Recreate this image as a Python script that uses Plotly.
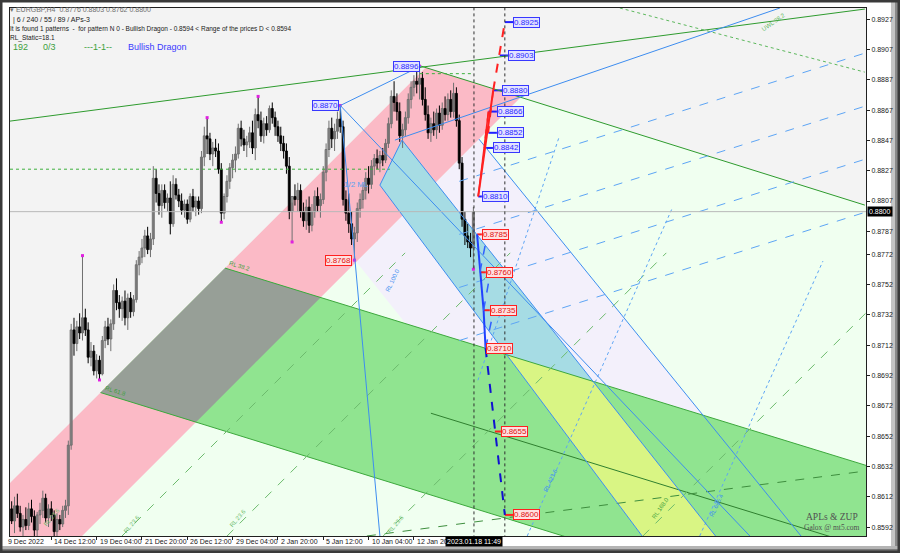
import plotly.graph_objects as go

# ---------------- data ----------------
BARS = list(range(1, 166))
OPEN = [0.8598,0.8604,0.8596,0.8606,0.8601,0.8592,0.8597,0.8593,0.8604,0.8599,0.8590,0.8600,0.8603,0.8611,0.8598,0.8604,0.8600,0.8589,0.8597,0.8594,
        0.8603,0.8606,0.8646,0.8722,0.8713,0.8724,0.8720,0.8730,0.8722,0.8704,0.8708,0.8695,0.8702,0.8693,0.8715,0.8724,0.8716,0.8726,0.8748,0.8740,
        0.8736,0.8741,0.8730,0.8743,0.8734,0.8742,0.8765,0.8770,0.8776,0.8784,0.8775,0.8782,0.8822,0.8812,0.8804,0.8814,0.8806,0.8809,0.8792,0.8818,
        0.8811,0.8807,0.8801,0.8805,0.8795,0.8810,0.8803,0.8807,0.8802,0.8836,0.8850,0.8848,0.8838,0.8842,0.8840,0.8828,0.8799,0.8810,0.8820,0.8829,
        0.8834,0.8838,0.8855,0.8848,0.8844,0.8846,0.8852,0.8842,0.8864,0.8860,0.8850,0.8858,0.8854,0.8868,0.8862,0.8856,0.8850,0.8845,0.8840,0.8830,
        0.8800,0.8810,0.8808,0.8814,0.8800,0.8794,0.8803,0.8791,0.8800,0.8810,0.8804,0.8808,0.8826,0.8841,0.8855,0.8848,0.8853,0.8861,0.8856,0.8808,
        0.8799,0.8792,0.8782,0.8786,0.8802,0.8808,0.8814,0.8822,0.8818,0.8830,0.8835,0.8832,0.8837,0.8834,0.8845,0.8858,0.8876,0.8872,0.8866,0.8850,
        0.8854,0.8862,0.8874,0.8882,0.8886,0.8884,0.8888,0.8874,0.8864,0.8852,0.8858,0.8854,0.8865,0.8857,0.8868,0.8864,0.8874,0.8866,0.8878,0.8860,
        0.8832,0.8795,0.8784,0.8780,0.8776]
HIGH = [0.8607,0.8609,0.8612,0.8614,0.8606,0.8600,0.8605,0.8608,0.8610,0.8603,0.8602,0.8608,0.8616,0.8614,0.8607,0.8609,0.8603,0.8601,0.8600,0.8606,
        0.8610,0.8649,0.8726,0.8730,0.8728,0.8733,0.8771,0.8736,0.8727,0.8714,0.8712,0.8706,0.8705,0.8718,0.8728,0.8730,0.8729,0.8752,0.8756,0.8745,
        0.8744,0.8748,0.8746,0.8747,0.8745,0.8768,0.8774,0.8782,0.8788,0.8790,0.8786,0.8830,0.8828,0.8818,0.8818,0.8818,0.8812,0.8820,0.8824,0.8822,
        0.8815,0.8812,0.8808,0.8808,0.8812,0.8815,0.8810,0.8810,0.8840,0.8856,0.8862,0.8852,0.8846,0.8848,0.8845,0.8832,0.8812,0.8824,0.8832,0.8838,
        0.8843,0.8858,0.8860,0.8854,0.8850,0.8856,0.8860,0.8868,0.8876,0.8866,0.8862,0.8863,0.8870,0.8872,0.8866,0.8860,0.8856,0.8850,0.8845,0.8836,
        0.8806,0.8818,0.8819,0.8818,0.8806,0.8808,0.8810,0.8805,0.8814,0.8816,0.8812,0.8830,0.8845,0.8860,0.8862,0.8858,0.8866,0.8870,0.8860,0.8814,
        0.8812,0.8800,0.8790,0.8806,0.8812,0.8818,0.8826,0.8830,0.8834,0.8838,0.8841,0.8840,0.8842,0.8848,0.8862,0.8880,0.8886,0.8878,0.8872,0.8858,
        0.8866,0.8878,0.8886,0.8890,0.8893,0.8896,0.8892,0.8882,0.8870,0.8862,0.8866,0.8868,0.8870,0.8872,0.8876,0.8878,0.8880,0.8885,0.8882,0.8864,
        0.8836,0.8800,0.8792,0.8786,0.8803]
LOW = [0.8590,0.8594,0.8588,0.8598,0.8589,0.8585,0.8590,0.8590,0.8595,0.8586,0.8586,0.8594,0.8598,0.8595,0.8592,0.8596,0.8585,0.8586,0.8590,0.8592,
       0.8598,0.8600,0.8643,0.8705,0.8708,0.8716,0.8715,0.8718,0.8700,0.8698,0.8692,0.8690,0.8689,0.8692,0.8710,0.8712,0.8708,0.8722,0.8735,0.8730,
       0.8728,0.8725,0.8722,0.8730,0.8731,0.8740,0.8758,0.8766,0.8770,0.8772,0.8770,0.8778,0.8806,0.8798,0.8796,0.8802,0.8800,0.8785,0.8790,0.8808,
       0.8803,0.8798,0.8796,0.8792,0.8793,0.8800,0.8797,0.8798,0.8799,0.8830,0.8838,0.8834,0.8830,0.8836,0.8825,0.8793,0.8795,0.8806,0.8815,0.8822,
       0.8826,0.8835,0.8843,0.8840,0.8836,0.8842,0.8838,0.8834,0.8855,0.8846,0.8845,0.8850,0.8852,0.8858,0.8850,0.8846,0.8840,0.8835,0.8825,0.8795,
       0.8780,0.8804,0.8800,0.8796,0.8790,0.8788,0.8786,0.8787,0.8796,0.8800,0.8796,0.8805,0.8820,0.8836,0.8842,0.8840,0.8848,0.8852,0.8804,0.8794,
       0.8786,0.8778,0.8768,0.8780,0.8796,0.8802,0.8808,0.8812,0.8815,0.8824,0.8828,0.8826,0.8830,0.8832,0.8842,0.8855,0.8866,0.8860,0.8846,0.8842,
       0.8850,0.8858,0.8868,0.8876,0.8878,0.8874,0.8870,0.8860,0.8848,0.8846,0.8850,0.8848,0.8852,0.8854,0.8860,0.8860,0.8862,0.8862,0.8856,0.8828,
       0.8790,0.8778,0.8776,0.8770,0.8762]
CLOSE = [0.8604,0.8596,0.8606,0.8601,0.8592,0.8597,0.8593,0.8604,0.8599,0.8590,0.8600,0.8603,0.8611,0.8598,0.8604,0.8600,0.8589,0.8597,0.8594,0.8603,
         0.8606,0.8646,0.8722,0.8713,0.8724,0.8720,0.8730,0.8722,0.8704,0.8708,0.8695,0.8702,0.8693,0.8715,0.8724,0.8716,0.8726,0.8748,0.8740,0.8736,
         0.8741,0.8730,0.8743,0.8734,0.8742,0.8765,0.8770,0.8776,0.8784,0.8775,0.8782,0.8822,0.8812,0.8804,0.8814,0.8806,0.8809,0.8792,0.8818,0.8811,
         0.8807,0.8801,0.8805,0.8795,0.8810,0.8803,0.8807,0.8802,0.8836,0.8850,0.8848,0.8838,0.8842,0.8840,0.8828,0.8799,0.8810,0.8820,0.8829,0.8834,
         0.8838,0.8855,0.8848,0.8844,0.8846,0.8852,0.8842,0.8864,0.8860,0.8850,0.8858,0.8854,0.8868,0.8862,0.8856,0.8850,0.8845,0.8840,0.8830,0.8800,
         0.8810,0.8808,0.8814,0.8800,0.8794,0.8803,0.8791,0.8800,0.8810,0.8804,0.8808,0.8826,0.8841,0.8855,0.8848,0.8853,0.8861,0.8856,0.8808,0.8799,
         0.8792,0.8782,0.8786,0.8802,0.8808,0.8814,0.8822,0.8818,0.8830,0.8835,0.8832,0.8837,0.8834,0.8845,0.8858,0.8876,0.8872,0.8866,0.8850,0.8854,
         0.8862,0.8874,0.8882,0.8886,0.8884,0.8888,0.8874,0.8864,0.8852,0.8858,0.8854,0.8865,0.8857,0.8868,0.8864,0.8874,0.8866,0.8878,0.8860,0.8832,
         0.8795,0.8784,0.8780,0.8776,0.8800]

# zigzag swing points (bar, 'H'/'L')
ZZ_BARS = [27, 33, 71, 76, 89, 101, 118, 123, 146, 165]
ZZ_KIND = ['H', 'L', 'H', 'L', 'H', 'L', 'H', 'L', 'H', 'L']

Y_TICKS = [0.8927,0.8907,0.8887,0.8867,0.8847,0.8827,0.8807,0.8787,0.8772,0.8752,
           0.8732,0.8712,0.8692,0.8672,0.8652,0.8632,0.8612,0.8592]
X_TICK_BARS = [16, 32, 48, 64, 80, 96, 112, 128, 144]
X_TICK_TEXT = ["14 Dec 12:00", "19 Dec 04:00", "21 Dec 20:00", "26 Dec 12:00",
               "29 Dec 04:00", "2 Jan 20:00", "5 Jan 12:00", "10 Jan 04:00", "12 Jan 20:00"]
FIRST_LABEL = "9 Dec 2022"
CUR_PRICE = 0.8800
CUR_BAR = 165.2
CUR_TIME = "2023.01.18 11:49"

# pattern anchor points (bar, price)
PT_A = (146.5, 0.8896)
PT_B = (118.0, 0.8870)
PT_C = (123.2, 0.8768)

# channel / pitchfork lines (two points each, bar & price)
PINK_UP = [(1.41, 0.8621), (147.6, 0.8894)]
PINK_LO = [(26.8, 0.8586), (181.3, 0.88746)]
PEAK_LN = [(146.5, 0.8896), (303.2, 0.88043)]
TOP_LN = [(1.41, 0.88597), (303.2, 0.89336)]
G_UP = [(77.3, 0.87628), (303.2, 0.86329)]
G_LO = [(33.9, 0.86804), (303.2, 0.85244)]
CY_L = [(132.0, 0.88175), (223.8, 0.85880)]
CY_R = [(176.8, 0.87595), (249.6, 0.85880)]
CY_TOP = (139.8, 0.88472)
LAV_L = [(123.2, 0.8768), (201.1, 0.85861)]
LAV_R = [(201.6, 0.87681), (246.0, 0.86659)]
STEEP = [[(184.0, 0.85861), (235.1, 0.88019)],
         [(244.9, 0.85861), (288.4, 0.87674)],
         [(166.6, 0.86888), (195.2, 0.88489)]]
GD_START = [40.9, 78.0, 133.1, 224.8]

# projection levels: pivot bar and label bar
UP_LEVELS = [0.8925, 0.8903, 0.8880, 0.8866, 0.8852, 0.8842, 0.8810]
UP_BARS = [176.1, 174.3, 172.0, 170.3, 170.3, 168.8, 166.7]
UP_LBL = [179.0, 177.2, 175.1, 173.3, 173.3, 171.9, 168.0]
DN_LEVELS = [0.8785, 0.8760, 0.8735, 0.8710, 0.8655, 0.8600]
DN_BARS = [166.3, 167.3, 168.6, 169.3, 172.6, 176.1]
DN_LBL = [168.0, 169.4, 170.8, 169.4, 174.7, 179.0]

# ---------------- helpers ----------------
def at(line, x):
    (x1, y1), (x2, y2) = line
    return y1 + (y2 - y1) * (x - x1) / (x2 - x1)

def at_y(line, y):
    (x1, y1), (x2, y2) = line
    return x1 + (x2 - x1) * (y - y1) / (y2 - y1)

def inter(l1, l2):
    (x1, y1), (x2, y2) = l1
    (x3, y3), (x4, y4) = l2
    d = (x1 - x2) * (y3 - y4) - (y1 - y2) * (x3 - x4)
    t = ((x1 - x3) * (y3 - y4) - (y1 - y3) * (x3 - x4)) / d
    return (x1 + t * (x2 - x1), y1 + t * (y2 - y1))

def area(poly):
    s = 0
    for i in range(len(poly)):
        x1, y1 = poly[i]; x2, y2 = poly[(i + 1) % len(poly)]
        s += x1 * y2 - x2 * y1
    return s

def clip(subject, clipper):
    sign = 1 if area(clipper) > 0 else -1
    out = subject[:]
    for i in range(len(clipper)):
        a = clipper[i]; b = clipper[(i + 1) % len(clipper)]
        def inside(p):
            return sign * ((b[0] - a[0]) * (p[1] - a[1]) - (b[1] - a[1]) * (p[0] - a[0])) >= 0
        inp = out; out = []
        if not inp:
            break
        s = inp[-1]
        for e in inp:
            if inside(e):
                if not inside(s):
                    out.append(inter((s, e), (a, b)))
                out.append(e)
            elif inside(s):
                out.append(inter((s, e), (a, b)))
            s = e
    return out

def path(poly):
    return "M " + " L ".join(f"{x},{y}" for x, y in poly) + " Z"

shapes = []
def poly_shape(poly, color):
    if len(poly) >= 3:
        shapes.append(dict(type="path", path=path(poly), fillcolor=color,
                           line=dict(width=0), layer="below", xref="x", yref="y"))

def seg(p1, p2, color, width=1, dash="solid", layer="above"):
    shapes.append(dict(type="line", x0=p1[0], y0=p1[1], x1=p2[0], y1=p2[1], xref="x", yref="y",
                       line=dict(color=color, width=width, dash=dash), layer=layer))

XL, XR, YB, YT = -20, 330, 0.845, 0.900

# ---------------- regions ----------------
pk_lo_bottom = (at_y(PINK_LO, YB), YB)
pk_up_left = (XL, at(PINK_UP, XL))
x_up_pk = inter(PINK_UP, PEAK_LN)
x_lo_pk = inter(PINK_LO, PEAK_LN)
PINK = [pk_up_left, x_up_pk, x_lo_pk, pk_lo_bottom, (XL, YB)]
HONEY = [pk_lo_bottom, x_lo_pk, (XR, at(PEAK_LN, XR)), (XR, YB)]
GREEN = [inter(PINK_UP, G_LO), inter(PINK_UP, G_UP), (XR, at(G_UP, XR)), (XR, at(G_LO, XR))]
LAV = [inter(LAV_L, PINK_LO), inter(LAV_R, PINK_LO), inter(LAV_R, G_UP), inter(LAV_L, G_UP)]
CYAN = [CY_L[0], CY_TOP, (at_y(CY_R, YB), YB), (at_y(CY_L, YB), YB)]

poly_shape(HONEY, "#F0FFF0")
poly_shape(LAV, "#F3F0FB")
poly_shape(PINK, "#FBBAC6")
poly_shape(GREEN, "#90E490")
poly_shape(clip(PINK, GREEN), "#979F97")
poly_shape(CYAN, "#A6DCE4")
poly_shape(clip(CYAN, PINK), "#A99CE0")
poly_shape(clip(CYAN, GREEN), "#D9F584")

# ---------------- lines ----------------
BLUE = "#3D8DF0"
GRN = "#2E9B2E"
seg(TOP_LN[0], TOP_LN[1], GRN)
seg(PEAK_LN[0], PEAK_LN[1], GRN)
seg(inter(PINK_UP, G_UP), (XR, at(G_UP, XR)), "#3DA83D")
seg(inter(PINK_UP, G_LO), (XR, at(G_LO, XR)), "#3DA83D")
mid = [(x, (at(G_UP, x) + at(G_LO, x)) / 2) for x in (150, XR)]
seg(mid[0], mid[1], "#2F7F2F")
seg((127.4, 0.85861), (303.2, 0.86289), "#3E8E3E", dash="dash")
seg((216.7, 0.89343), (303.2, 0.8892), "#5CB85C", dash="dot")
seg((1.41, 0.8828), (135.5, 0.8828), "#3DB03D", dash="dot")
seg((146.1, 0.8891), (164.8, 0.8891), "#3DB03D", dash="dot")
for xb in GD_START:
    seg((xb, 0.8586), (xb + 100, 0.8586 + 100 * 2.833 / 15164), "#6DBB6D", dash="dash")
for ln in STEEP:
    seg(ln[0], ln[1], "#5DA5F5", dash="dot")

seg(PT_B, PT_A, BLUE)
seg(PT_B, PT_C, BLUE)
seg(PT_C, (132.0, 0.8586), BLUE)
seg(PT_B, (262.6, 0.85861), BLUE)
seg(CY_L[0], (at_y(CY_L, YB), YB), BLUE)
seg(CY_TOP, (at_y(CY_R, YB), YB), BLUE)
seg(CY_L[0], CY_TOP, BLUE)
seg(inter(LAV_R, PINK_LO), (at_y(LAV_R, YB), YB), BLUE)
seg((137.3, 0.88472), (273.2, 0.89343), BLUE)
for yr in (0.8905, 0.8870, 0.8835, 0.8800):
    seg((160, yr - 0.0085), (304, yr), "#5DA5F5", dash="dash")

seg((XL, CUR_PRICE), (XR, CUR_PRICE), "#B8B8B8")
for xb in (CUR_BAR, 176.1):
    seg((xb, YB), (xb, YT), "#303030", dash="dot")

up = dict(zip(UP_LEVELS, UP_BARS))
dn = dict(zip(DN_LEVELS, DN_BARS))
seg((up[0.8810], 0.8810), (up[0.8880], 0.8880), "#FF2020", 2)
seg((up[0.8880], 0.8880), (up[0.8925], 0.8925), "#FF2020", 2, "dash")
seg((up[0.8810], 0.8810), (up[0.8866], 0.8866), "#FF2020", 1.5)
seg((up[0.8866], 0.8866), (up[0.8842], 0.8842), "#FF2020", 1.5, "dash")
seg((up[0.8880], 0.8880), (up[0.8852], 0.8852), "#FF2020", 1.5, "dash")
seg((dn[0.8785], 0.8785), (dn[0.8735], 0.8735), "#2040FF", 2)
seg((dn[0.8735], 0.8735), (dn[0.8710], 0.8710), "#2040FF", 2)
seg((dn[0.8710], 0.8710), (dn[0.8600], 0.8600), "#1010D0", 2, "dash")
seg((dn[0.8760], 0.8760), (169.9, 0.8785), "#3060FF", 1.5, "dash")
seg((dn[0.8735], 0.8735), (171.0, 0.8760), "#3060FF", 1.5, "dash")
seg((dn[0.8710], 0.8710), (172.4, 0.8737), "#3060FF", 1.5, "dash")

# ---------------- figure ----------------
fig = go.Figure()
bull = [i for i in range(len(BARS)) if CLOSE[i] >= OPEN[i]]
bear = [i for i in range(len(BARS)) if CLOSE[i] < OPEN[i]]

def wick_xy(idx):
    xs, ys = [], []
    for i in idx:
        xs += [BARS[i], BARS[i], None]
        ys += [LOW[i], HIGH[i], None]
    return xs, ys

for idx, col in ((bull, "#707070"), (bear, "#000000")):
    wx, wy = wick_xy(idx)
    fig.add_trace(go.Scatter(x=wx, y=wy, mode="lines", line=dict(color=col, width=1),
                             showlegend=False, hoverinfo="skip"))
for idx, fill, edge in ((bull, "#A8A8A8", "#5E5E5E"), (bear, "#000000", "#000000")):
    fig.add_trace(go.Bar(x=[BARS[i] for i in idx],
                         base=[min(OPEN[i], CLOSE[i]) for i in idx],
                         y=[max(abs(CLOSE[i] - OPEN[i]), 0.00004) for i in idx],
                         width=0.72, marker=dict(color=fill, line=dict(color=edge, width=0.8)),
                         showlegend=False, hoverinfo="skip"))

zz_y = [HIGH[b - 1] if k == 'H' else LOW[b - 1] for b, k in zip(ZZ_BARS, ZZ_KIND)]
fig.add_trace(go.Scatter(x=ZZ_BARS, y=zz_y, mode="markers",
                         marker=dict(color="#E020E0", size=3, symbol="square"),
                         showlegend=False, hoverinfo="skip"))

ann = []
def box(x, y, text, kind, xanchor="left"):
    if kind == "blue":
        ann.append(dict(x=x, y=y, xref="x", yref="y", text=text, showarrow=False, xanchor=xanchor,
                        font=dict(family="Liberation Sans", size=8, color="#2A2AFF"),
                        bgcolor="#E2E2FF", bordercolor="#3838FF", borderwidth=1, borderpad=0))
    else:
        ann.append(dict(x=x, y=y, xref="x", yref="y", text=text, showarrow=False, xanchor=xanchor,
                        font=dict(family="Liberation Sans", size=8, color="#E01010"),
                        bgcolor="#FFE0E0", bordercolor="#FF2020", borderwidth=1, borderpad=0))

for lv, xb, xl in zip(UP_LEVELS, UP_BARS, UP_LBL):
    box(xl, lv, f"{lv:.4f}", "blue")
    fig.add_trace(go.Scatter(x=[xb, xl], y=[lv, lv], mode="lines", line=dict(color="#2020FF", width=2),
                             showlegend=False, hoverinfo="skip"))
for lv, xb, xl in zip(DN_LEVELS, DN_BARS, DN_LBL):
    box(xl, lv, f"{lv:.4f}", "red")
    fig.add_trace(go.Scatter(x=[xb, xl], y=[lv, lv], mode="lines", line=dict(color="#FF2020", width=2),
                             showlegend=False, hoverinfo="skip"))
box(PT_A[0] - 0.5, PT_A[1], f"{PT_A[1]:.4f}", "blue", "right")
box(PT_B[0] - 0.5, PT_B[1], f"{PT_B[1]:.4f}", "blue", "right")
box(PT_C[0] - 1.0, PT_C[1], f"{PT_C[1]:.4f}", "red", "right")

def PX(px):
    return (px - 10) / 856
def PY(py):
    return (536 - py) / 528

def txt(px, py, text, size, color, family="Liberation Sans", angle=0, xanchor="left"):
    ann.append(dict(x=PX(px), y=PY(py), xref="paper", yref="paper", text=text, showarrow=False,
                    xanchor=xanchor, yanchor="middle", textangle=angle,
                    font=dict(family=family, size=size, color=color)))

txt(8, 10, "▾ EURGBP,H4  0.8776 0.8803 0.8762 0.8800", 7, "#707070")
txt(11, 20, "| 6 / 240 / 55 / 89 / APs-3", 7, "#202020")
txt(8, 29, "It is found 1 patterns  -  for pattern N 0 - Bullish Dragon - 0.8594 < Range of the prices D < 0.8594", 6.5, "#202020")
txt(8, 38, "RL_Static=18.1", 6.5, "#202020")
txt(11, 47, "192", 9, "#3CA03C")
txt(41, 47, "0/3", 9, "#3CA03C")
txt(82, 47, "---1-1--", 9, "#3CA03C")
txt(126, 47, "Bullish Dragon", 9, "#3A3AFF")

txt(342, 184, "1/2 ML", 8, "#5AA0F0")
txt(226, 266, "RL 38.2", 6, "#3CA03C", angle=17)
txt(102, 391, "RL 61.8", 6, "#3CA03C", angle=17)
for (xp, yp) in ((40, 517), (120, 524), (226, 518), (384, 524)):
    txt(xp, yp, "RL 23.6", 6, "#6DBB6D", angle=-50)
txt(758, 22, "UWL 38.2", 6, "#5CB85C", angle=-35)
txt(540, 480, "RL 423.6", 6, "#3D8DF0", angle=-65)
txt(648, 508, "RL 168.0", 6, "#3CA03C", angle=-55)
txt(706, 505, "RL 685.4", 6, "#3D8DF0", angle=-65)
txt(382, 280, "RL 100.0", 6, "#3D8DF0", angle=-65)
txt(860, 517, "APLs & ZUP", 9.5, "#505050", family="Liberation Serif", xanchor="right")
txt(862, 527, "Galox @ mt5.com", 7.5, "#505050", family="Liberation Serif", xanchor="right")

txt(6, 541, FIRST_LABEL, 7, "#202020")
for xb, t in zip(X_TICK_BARS, X_TICK_TEXT):
    ann.append(dict(x=xb, y=PY(541), xref="x", yref="paper", text=t, showarrow=False,
                    xanchor="left", xshift=1, yanchor="middle",
                    font=dict(family="Liberation Sans", size=7, color="#202020")))
ann.append(dict(x=CUR_BAR, y=PY(541), xref="x", yref="paper", text=CUR_TIME, showarrow=False,
                xanchor="center", yanchor="middle", bgcolor="#000000", borderpad=1,
                font=dict(family="Liberation Sans", size=7, color="#FFFFFF")))
ann.append(dict(x=PX(867), y=CUR_PRICE, xref="paper", yref="y", text=f"{CUR_PRICE:.4f}", showarrow=False,
                xanchor="left", yanchor="middle", bgcolor="#000000", borderpad=1,
                font=dict(family="Liberation Sans", size=7, color="#FFFFFF")))

frame = [
    dict(type="rect", xref="paper", yref="paper", x0=PX(891), x1=PX(900), y0=PY(553), y1=PY(0),
         fillcolor="#C4C4C4", line=dict(width=0), layer="below"),
    dict(type="rect", xref="paper", yref="paper", x0=PX(895), x1=PX(900), y0=PY(553), y1=PY(0),
         fillcolor="#8A8A8A", line=dict(width=0), layer="below"),
    dict(type="rect", xref="paper", yref="paper", x0=PX(0), x1=PX(900), y0=PY(553), y1=PY(546),
         fillcolor="#B4B4B4", line=dict(width=0), layer="below"),
    dict(type="rect", xref="paper", yref="paper", x0=PX(0), x1=PX(900), y0=PY(553), y1=PY(549),
         fillcolor="#7A7A7A", line=dict(width=0), layer="below"),
    dict(type="rect", xref="paper", yref="paper", x0=PX(1), x1=PX(899), y0=PY(552), y1=PY(1),
         fillcolor="rgba(0,0,0,0)", line=dict(color="#3A3A3A", width=3), layer="above"),
]

fig.update_layout(
    width=900, height=553, margin=dict(l=10, r=34, t=8, b=17),
    paper_bgcolor="#FFFFFF", plot_bgcolor="#F3F3F3", barmode="overlay", bargap=0,
    shapes=shapes + frame, annotations=ann, showlegend=False,
    xaxis=dict(range=[1.41, 303.6], showgrid=False, zeroline=False,
               tickvals=X_TICK_BARS, ticks="outside", ticklen=3, tickcolor="#202020",
               showticklabels=False, showline=True, linecolor="#202020", linewidth=1, mirror=True),
    yaxis=dict(range=[0.85861, 0.89343], side="right", showgrid=False, zeroline=False,
               tickvals=Y_TICKS, ticktext=[f"{v:.4f}" for v in Y_TICKS], ticks="outside", ticklen=3,
               tickcolor="#202020", tickfont=dict(family="Liberation Sans", size=7, color="#202020"),
               showline=True, linecolor="#202020", linewidth=1, mirror=True),
)
fig.write_html("out.html", config={"displayModeBar": False, "staticPlot": True},
               post_script="document.body.style.margin='0';document.body.style.overflow='hidden';")
